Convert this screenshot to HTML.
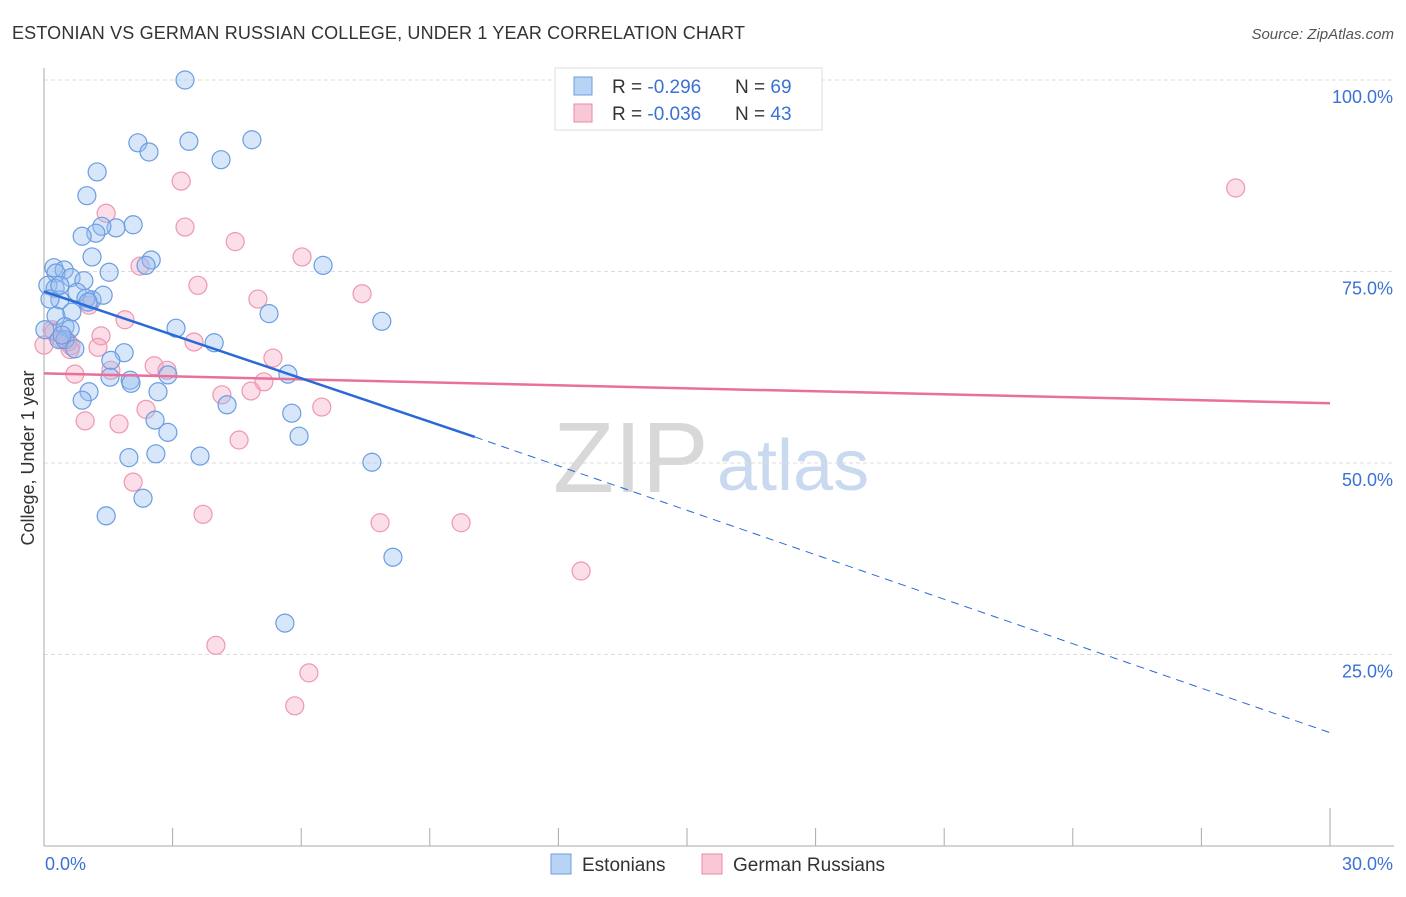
<!DOCTYPE html>
<html><head><meta charset="utf-8"><style>
body{margin:0;background:#fff;font-family:"Liberation Sans",sans-serif;}
svg text{font-family:"Liberation Sans",sans-serif;}
</style></head><body>
<svg id="chart" width="1406" height="892" xmlns="http://www.w3.org/2000/svg">
<text x="12" y="39" font-size="18" fill="#333" textLength="733">ESTONIAN VS GERMAN RUSSIAN COLLEGE, UNDER 1 YEAR CORRELATION CHART</text>
<text x="1394" y="39" font-size="15" fill="#555" font-style="italic" text-anchor="end">Source: ZipAtlas.com</text>
<g>
<text x="553" y="492" font-size="100" fill="#d8d8d8" font-family="Liberation Serif,serif">ZIP</text>
<text x="717" y="490" font-size="72" fill="#c9d9f0">atlas</text>
</g>
<g id="grid"></g>
<g id="axes"></g>
<g id="marks"></g>
<text transform="translate(34,458) rotate(-90)" font-size="18" fill="#333" text-anchor="middle">College, Under 1 year</text>
<g>
<rect x="555" y="68" width="267" height="62" fill="#fff" stroke="#ddd"/>
<rect x="574" y="77" width="18" height="18" fill="#b9d3f5" stroke="#6d9fe0"/>
<rect x="574" y="104" width="18" height="18" fill="#f8c8d6" stroke="#e88aa8"/>
<text x="612" y="93" font-size="19" fill="#333">R = <tspan fill="#3a72d4">-0.296</tspan></text>
<text x="735" y="93" font-size="19" fill="#333">N = <tspan fill="#3a72d4">69</tspan></text>
<text x="612" y="120" font-size="19" fill="#333">R = <tspan fill="#3a72d4">-0.036</tspan></text>
<text x="735" y="120" font-size="19" fill="#333">N = <tspan fill="#3a72d4">43</tspan></text>
</g>
<g>
<rect x="551" y="854" width="20" height="20" fill="#b9d3f5" stroke="#6d9fe0"/>
<text x="582" y="871" font-size="19" fill="#333">Estonians</text>
<rect x="702" y="854" width="20" height="20" fill="#f8c8d6" stroke="#e88aa8"/>
<text x="733" y="871" font-size="19" fill="#333">German Russians</text>
</g>
</svg>
<script>
const blueX=[3.29,2.19,2.45,3.38,4.85,4.13,1.24,1.00,2.08,1.68,1.35,1.21,0.89,2.50,2.38,6.51,1.12,0.23,0.47,0.28,1.52,0.63,0.93,0.09,0.26,0.77,1.12,1.38,0.37,0.14,0.98,1.03,5.25,7.88,0.28,0.65,0.49,0.61,3.08,0.35,0.49,0.72,1.87,1.56,3.97,5.69,2.89,1.54,2.01,2.03,2.66,1.05,0.89,4.27,5.78,2.59,2.89,5.95,7.65,1.98,2.61,3.64,2.31,1.45,8.14,5.62,0.37,0.42,0.02];
const blueY=[100,91.8,90.6,92.0,92.2,89.6,88.0,84.9,81.1,80.7,80.9,80.0,79.6,76.5,75.8,75.8,76.9,75.5,75.2,74.8,74.9,74.2,73.8,73.2,72.8,72.3,71.3,71.9,71.3,71.4,71.5,71.0,69.5,68.5,69.2,69.7,67.8,67.5,67.6,66.1,66.1,64.9,64.4,63.4,65.7,61.6,61.5,61.2,60.8,60.4,59.3,59.3,58.2,57.6,56.5,55.6,54.0,53.5,50.1,50.7,51.2,50.9,45.4,43.1,37.7,29.1,73.2,66.7,67.4];
const pinkX=[27.80,3.20,1.45,3.29,4.46,6.02,2.24,3.59,7.42,4.99,1.05,1.89,0.23,0.56,1.33,1.26,3.50,5.34,0.63,2.57,1.56,0.72,2.87,5.13,4.15,4.83,6.48,2.38,0.96,1.75,4.55,2.08,3.71,7.84,9.73,12.53,4.01,6.18,5.85,0.0,0.42,0.19,0.61];
const pinkY=[85.9,86.8,82.6,80.8,78.9,76.9,75.7,73.2,72.1,71.4,70.6,68.7,67.1,65.8,66.6,65.1,65.8,63.7,65.3,62.7,62.1,61.6,62.1,60.6,58.9,59.4,57.3,57.0,55.5,55.1,53.0,47.5,43.3,42.2,42.2,35.9,26.2,22.6,18.3,65.4,66.1,67.4,64.8];
const yTicks=[100,75,50,25];
const yTickLabels=["100.0%","75.0%","50.0%","25.0%"];
const blueTrend=[72.4,53.4,14.8];
const blueTrendX=[0,10.05,30];
const pinkTrend=[61.7,57.8];
const pinkTrendX=[0,30];
const NS="http://www.w3.org/2000/svg";
const X=v=>44+v*(1286/30);
const Y=v=>80+(100-v)*7.66;
function mk(tag,attrs,parent){const e=document.createElementNS(NS,tag);for(const k in attrs)e.setAttribute(k,attrs[k]);document.getElementById(parent).appendChild(e);return e;}
yTicks.forEach((t,i)=>{
 const g=mk('line',{x1:44,x2:1394,y1:Y(t),y2:Y(t),stroke:'#ddd','stroke-dasharray':'4,3'},'grid');
 
 
 const l=mk('text',{x:1393,y:Y(t)+23,'font-size':18,fill:'#3a72d4','text-anchor':'end'},'grid');
 l.textContent=yTickLabels[i];
 
 
});
let a=mk('line',{x1:44,x2:44,y1:68,y2:846,stroke:'#aaa'},'axes');


a=mk('line',{x1:44,x2:1394,y1:846,y2:846,stroke:'#aaa'},'axes');


for(let i=1;i<=10;i++){const t=mk('line',{x1:X(i*3),x2:X(i*3),y1:i==10?808:828,y2:846,stroke:'#aaa'},'axes');
 
 }
let xl=mk('text',{x:45,y:870,'font-size':18,fill:'#3a72d4'},'axes');xl.textContent='0.0%';


xl=mk('text',{x:1393,y:870,'font-size':18,fill:'#3a72d4','text-anchor':'end'},'axes');xl.textContent='30.0%';


pinkX.forEach((x,i)=>{const c=mk('circle',{cx:X(x),cy:Y(pinkY[i]),r:9,fill:'rgba(244,160,185,0.35)',stroke:'#ee97b2','stroke-width':1.2},'marks');
 
 });
blueX.forEach((x,i)=>{const c=mk('circle',{cx:X(x),cy:Y(blueY[i]),r:9,fill:'rgba(150,190,240,0.38)',stroke:'#6a9de2','stroke-width':1.2},'marks');
 
 });
let l=mk('line',{x1:X(pinkTrendX[0]),y1:Y(pinkTrend[0]),x2:X(pinkTrendX[1]),y2:Y(pinkTrend[1]),stroke:'#e8709a','stroke-width':2.5},'marks');


l=mk('line',{x1:X(blueTrendX[0]),y1:Y(blueTrend[0]),x2:X(blueTrendX[1]),y2:Y(blueTrend[1]),stroke:'#2a6ad6','stroke-width':2.5},'marks');


l=mk('line',{x1:X(blueTrendX[1]),y1:Y(blueTrend[1]),x2:X(blueTrendX[2]),y2:Y(blueTrend[2]),stroke:'#2a6ad6','stroke-width':1,'stroke-dasharray':'8,6'},'marks');


</script>
</body></html>
